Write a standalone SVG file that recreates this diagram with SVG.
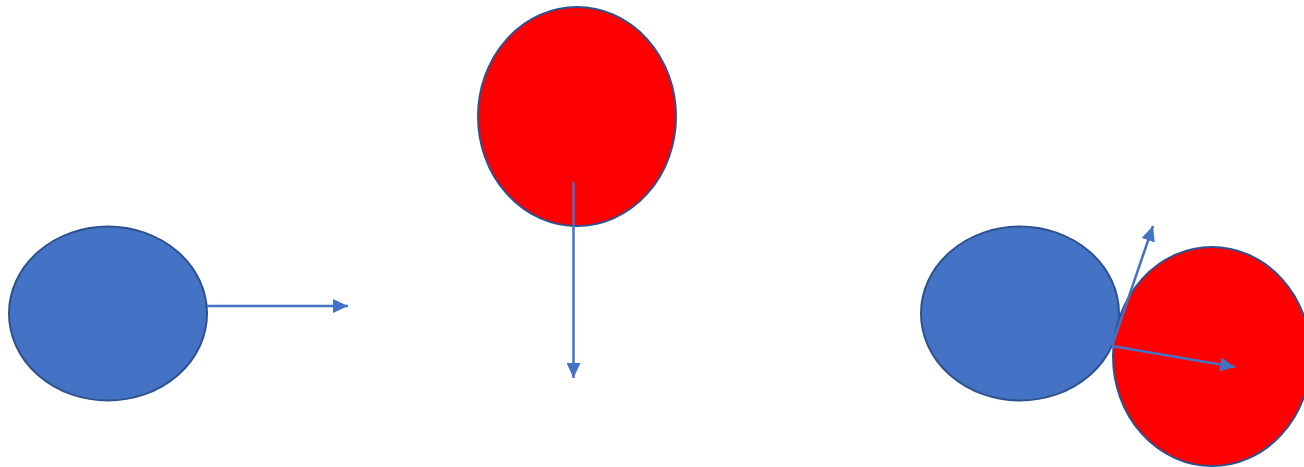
<svg xmlns="http://www.w3.org/2000/svg" width="1304" height="467" viewBox="0 0 1304 467">
<style>
.blue{fill:#4472C4;stroke:#2F528F;stroke-width:2}
.red{fill:#FF0000;stroke:#2F528F;stroke-width:2}
.arr{stroke:#4472C4;stroke-width:2.5;fill:none;marker-end:url(#ah)}
</style>
<defs>
<marker id="ah" markerUnits="userSpaceOnUse" markerWidth="16" markerHeight="14" refX="15" refY="7" orient="auto">
<path d="M0,0 L15,7 L0,14 Z" fill="#4472C4"/>
</marker>
</defs>
<g id="ball1"><ellipse class="blue" cx="108" cy="313.5" rx="99" ry="87"/></g>
<g id="ball2"><ellipse class="red" cx="577" cy="116.5" rx="99" ry="109.5"/></g>
<g id="ball3"><ellipse class="blue" cx="1020" cy="313.5" rx="99" ry="87"/></g>
<g id="ball4"><ellipse class="red" cx="1212" cy="356.5" rx="99" ry="109.5"/></g>
<g id="connectors">
<line class="arr" x1="207" y1="306" x2="348" y2="306"/>
<line class="arr" x1="573.5" y1="182" x2="573.5" y2="378"/>
<line class="arr" x1="1112" y1="346" x2="1153" y2="226"/>
<line class="arr" x1="1112" y1="346" x2="1235" y2="367"/>
</g>
</svg>
